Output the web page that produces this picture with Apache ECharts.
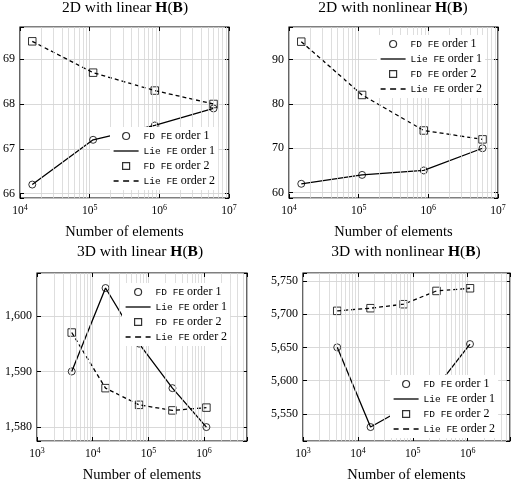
<!DOCTYPE html>
<html>
<head>
<meta charset="utf-8">
<script src="https://cdn.jsdelivr.net/npm/echarts@6/dist/echarts.min.js"></script>
<style>
  html, body { margin: 0; padding: 0; background: #fff; }
  #chart { width: 513px; height: 484px; }
</style>
</head>
<body>
<div id="chart"></div>
<script>
// mesh sizes
const elems2d = [15000, 112000, 860000, 6000000];
const elems3d = [4200, 17000, 68000, 270000, 1100000];

// 2D linear H(B)
const lin2dOrder1 = [66.2, 67.2, 67.52, 67.9];
const lin2dOrder2 = [69.4, 68.7, 68.3, 68.0];
// 2D nonlinear H(B)
const non2dOrder1 = [62, 64, 65, 70];
const non2dOrder2 = [94, 82, 74, 72];
// 3D linear H(B)
const lin3dOrder1 = [1590, 1605, 1595, 1587, 1580];
const lin3dOrder2 = [1597, 1587, 1584, 1583, 1583.5];
// 3D nonlinear H(B)
const non3dOrder1 = [5650, 5530, 5558, 5590, 5655];
const non3dOrder2 = [5705, 5709, 5715, 5735, 5739];

const titles = [
  '2D with linear {b|H}({b|B})',
  '2D with nonlinear {b|H}({b|B})',
  '3D with linear {b|H}({b|B})',
  '3D with nonlinear {b|H}({b|B})'
];
const legendNames = ['FD FE order 1', 'Lie FE order 1', 'FD FE order 2', 'Lie FE order 2'];

const SERIF = '"Liberation Serif", "DejaVu Serif", serif';
const MONO = '"Liberation Mono", "DejaVu Sans Mono", monospace';

// legend glyphs, 25x7 box (leading moves pin the bounds so nothing gets stretched)
const ICON_SOLID = 'path://M0,0M25,7M0,2.85H25V4.15H0Z';
const ICON_DASH = 'path://M0,0M25,7M0,2.85H5V4.15H0ZM9.5,2.85H15.5V4.15H9.5ZM20,2.85H25V4.15H20Z';
const ICON_SQUARE = 'path://M0,0M25,7M9,0.2H16V6.8H9Z';

const panels = [
  { grid: { left: 20, top: 27, width: 209, height: 171 }, x: elems2d, o1: lin2dOrder1, o2: lin2dOrder2,
    xMin: 1e4, xMax: 1e7, yMin: 65.9, yMax: 69.72, split: 4, step: 1,
    title: { x: 125, y: 0 }, legend: { left: 110, top: 127 } },
  { grid: { left: 289, top: 27, width: 209, height: 171 }, x: elems2d, o1: non2dOrder1, o2: non2dOrder2,
    xMin: 1e4, xMax: 1e7, yMin: 58.8, yMax: 97.3, split: 4, step: 10,
    title: { x: 393, y: 0 }, legend: { left: 377, top: 35 } },
  { grid: { left: 37, top: 273, width: 210, height: 172 }, x: elems3d, o1: lin3dOrder1, o2: lin3dOrder2,
    xMin: 1e3, xMax: Math.pow(10, 6.77), yMin: 1577.5, yMax: 1607.7, split: 3, step: 10,
    title: { x: 140, y: 244 }, legend: { left: 122, top: 283 } },
  { grid: { left: 303, top: 273, width: 209, height: 172 }, x: elems3d, o1: non3dOrder1, o2: non3dOrder2,
    xMin: 1e3, xMax: Math.pow(10, 6.77), yMin: 5509, yMax: 5762, split: 5, step: 50,
    title: { x: 406, y: 244 }, legend: { left: 390, top: 375 } }
];

// minor grid positions for the log axis (2..9 per decade)
function minorLines(lo, hi) {
  const out = [];
  for (let d = lo; d < hi; d *= 10) {
    for (let k = 2; k <= 9; k++) {
      if (k * d < hi) out.push({ xAxis: k * d });
    }
  }
  return out;
}

function xLabel(v) {
  const e = Math.log10(v);
  if (Math.abs(e - Math.round(e)) > 1e-6) return '';
  return '{n|10}{s|' + Math.round(e) + '}';
}

const option = {
  animation: false,
  backgroundColor: '#fff',
  title: [], grid: [], xAxis: [], yAxis: [], legend: [], series: []
};

panels.forEach((p, i) => {
  option.title.push({
    text: titles[i], left: p.title.x, top: p.title.y, textAlign: 'center', padding: 0,
    textStyle: { fontFamily: SERIF, fontSize: 15.5, fontWeight: 'normal', color: '#000',
      rich: { b: { fontFamily: SERIF, fontSize: 15.5, fontWeight: 'bold', color: '#000' } } }
  });
  option.grid.push(Object.assign({ show: true, borderColor: '#000', borderWidth: 1.2, backgroundColor: 'transparent' }, p.grid));

  const yFmt = v => {
    const r = v / p.step;
    return Math.abs(r - Math.round(r)) < 1e-6 ? v.toLocaleString('en-US') : '';
  };
  // bottom / top x axes
  option.xAxis.push({
    type: 'log', gridIndex: i, min: p.xMin, max: p.xMax, logBase: 10,
    name: 'Number of elements', nameLocation: 'middle', nameGap: 27,
    nameTextStyle: { fontFamily: SERIF, fontSize: 14.5, color: '#000' },
    axisLine: { show: false },
    axisTick: { inside: true, length: 4, lineStyle: { color: '#000' } },
    axisLabel: { margin: 6, formatter: xLabel, color: '#000',
      rich: { n: { fontFamily: SERIF, fontSize: 11.5, color: '#000' },
              s: { fontFamily: SERIF, fontSize: 8, color: '#000', verticalAlign: 'top', padding: [0, 0, 6, 0] } } },
    splitLine: { show: true, lineStyle: { color: '#cfcfcf', width: 0.8 } }
  });
  option.xAxis.push({
    type: 'log', gridIndex: i, min: p.xMin, max: p.xMax, position: 'top',
    axisLine: { show: false }, axisLabel: { show: false }, splitLine: { show: false },
    axisTick: { inside: true, length: 4, lineStyle: { color: '#000' } }
  });
  option.yAxis.push({
    type: 'value', gridIndex: i, min: p.yMin, max: p.yMax, splitNumber: p.split,
    axisLine: { show: false },
    axisTick: { inside: true, length: 4, lineStyle: { color: '#000' } },
    axisLabel: { margin: 5, formatter: yFmt, fontFamily: SERIF, fontSize: 12, color: '#000' },
    splitLine: { show: true, lineStyle: { color: '#cfcfcf', width: 0.8 } }
  });
  option.yAxis.push({
    type: 'value', gridIndex: i, min: p.yMin, max: p.yMax, splitNumber: p.split, position: 'right',
    axisLine: { show: false }, axisLabel: { show: false }, splitLine: { show: false },
    axisTick: { inside: true, length: 4, lineStyle: { color: '#000' } }
  });

  const xi = i * 2, yi = i * 2;
  const pts = arr => p.x.map((x, k) => [x, arr[k]]);

  option.series.push({
    name: 'minor' + i, type: 'line', xAxisIndex: xi, yAxisIndex: yi, data: [], silent: true, z: 1,
    markLine: { silent: true, symbol: ['none', 'none'], label: { show: false }, animation: false,
      lineStyle: { color: '#d6d6d6', width: 0.8, type: 'solid' }, emphasis: { disabled: true },
      data: minorLines(p.xMin, p.xMax) }
  });
  option.series.push({
    name: legendNames[1], type: 'line', xAxisIndex: xi, yAxisIndex: yi, data: pts(p.o1), z: 3,
    symbol: 'none', lineStyle: { color: '#000', width: 1.3 }, itemStyle: { color: '#000' }
  });
  option.series.push({
    name: legendNames[3], type: 'line', xAxisIndex: xi, yAxisIndex: yi, data: pts(p.o2), z: 3,
    symbol: 'none', lineStyle: { color: '#000', width: 1.3, type: [4, 3] }, itemStyle: { color: '#000' }
  });
  option.series.push({
    name: legendNames[0], type: 'scatter', xAxisIndex: xi, yAxisIndex: yi, data: pts(p.o1), z: 4,
    symbol: 'circle', symbolSize: 7,
    itemStyle: { color: 'rgba(255,255,255,0)', borderColor: '#000', borderWidth: 1 }
  });
  option.series.push({
    name: legendNames[2], type: 'scatter', xAxisIndex: xi, yAxisIndex: yi, data: pts(p.o2), z: 4,
    symbol: 'rect', symbolSize: 7.5,
    itemStyle: { color: 'rgba(255,255,255,0)', borderColor: '#000', borderWidth: 1 }
  });

  const hollow = { color: 'rgba(255,255,255,0)', borderColor: '#000', borderWidth: 1.2 };
  const solid = { color: '#000', borderWidth: 0 };
  option.legend.push({
    orient: 'vertical', left: p.legend.left, top: p.legend.top, padding: [3, 3],
    backgroundColor: '#fff', borderWidth: 0, z: 10, selectedMode: false,
    itemWidth: 25, itemHeight: 7, itemGap: 3,
    data: [
      { name: legendNames[0], icon: 'circle', itemStyle: hollow },
      { name: legendNames[1], icon: ICON_SOLID, itemStyle: solid },
      { name: legendNames[2], icon: ICON_SQUARE, itemStyle: hollow },
      { name: legendNames[3], icon: ICON_DASH, itemStyle: solid }
    ],
    formatter: n => {
      const parts = n.split(' ');
      return '{m|' + parts[0] + ' ' + parts[1] + '} {t|' + parts.slice(2).join(' ') + '}';
    },
    textStyle: { fontFamily: SERIF, fontSize: 12, color: '#000', lineHeight: 12,
      rich: { m: { fontFamily: MONO, fontSize: 9.5, color: '#000', lineHeight: 12 },
              t: { fontFamily: SERIF, fontSize: 12, color: '#000', lineHeight: 12 } } }
  });
});

const chart = echarts.init(document.getElementById('chart'), null, { renderer: 'canvas' });
chart.setOption(option);
</script>
</body>
</html>
